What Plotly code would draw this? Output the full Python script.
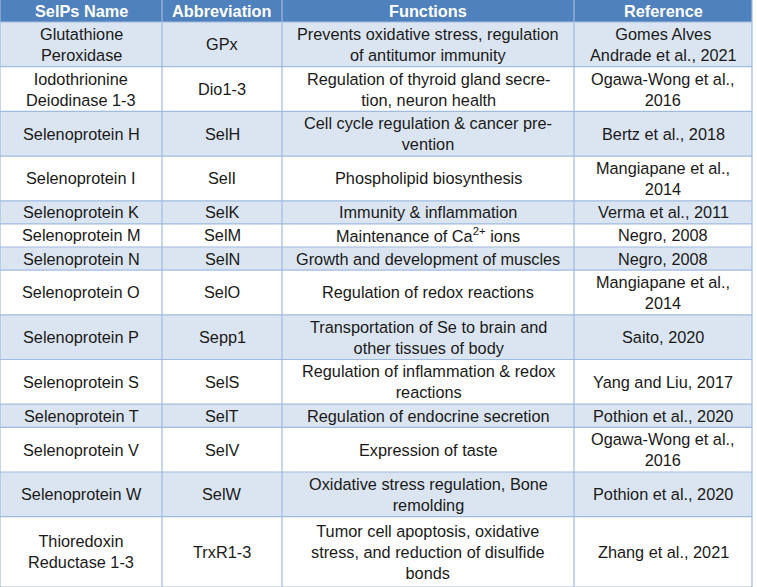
import plotly.graph_objects as go

headers = ["SelPs Name", "Abbreviation", "Functions", "Reference"]
col_widths = [162, 120, 292, 178]

names = [
    "Glutathione<br>Peroxidase", "Iodothrionine<br>Deiodinase 1-3", "Selenoprotein H",
    "Selenoprotein I", "Selenoprotein K", "Selenoprotein M", "Selenoprotein N",
    "Selenoprotein O", "Selenoprotein P", "Selenoprotein S", "Selenoprotein T",
    "Selenoprotein V", "Selenoprotein W", "Thioredoxin<br>Reductase 1-3",
]
abbrevs = ["GPx", "Dio1-3", "SelH", "SelI", "SelK", "SelM", "SelN", "SelO",
           "Sepp1", "SelS", "SelT", "SelV", "SelW", "TrxR1-3"]
functions = [
    "Prevents oxidative stress, regulation<br>of antitumor immunity",
    "Regulation of thyroid gland secre-<br>tion, neuron health",
    "Cell cycle regulation & cancer pre-<br>vention",
    "Phospholipid biosynthesis",
    "Immunity & inflammation",
    "Maintenance of Ca<sup>2+</sup> ions",
    "Growth and development of muscles",
    "Regulation of redox reactions",
    "Transportation of Se to brain and<br>other tissues of body",
    "Regulation of inflammation & redox<br>reactions",
    "Regulation of endocrine secretion",
    "Expression of taste",
    "Oxidative stress regulation, Bone<br>remolding",
    "Tumor cell apoptosis, oxidative<br>stress, and reduction of disulfide<br>bonds",
]
references = [
    "Gomes Alves<br>Andrade et al., 2021", "Ogawa-Wong et al.,<br>2016", "Bertz et al., 2018",
    "Mangiapane et al.,<br>2014", "Verma et al., 2011", "Negro, 2008", "Negro, 2008",
    "Mangiapane et al.,<br>2014", "Saito, 2020", "Yang and Liu, 2017",
    "Pothion et al., 2020", "Ogawa-Wong et al.,<br>2016", "Pothion et al., 2020",
    "Zhang et al., 2021",
]

HEADER_BG = "#4f81bd"
BAND = "#dbe5f1"
BORDER = "#9fbbe0"
FONT = "Liberation Sans, Arial, sans-serif"
FS = 16.3
HEADER_H = 22
LINE_H = 21.6
PAD = 1.5

columns = [names, abbrevs, functions, references]
n_rows = len(names)

# column edges
x_edges = [0]
for w in col_widths:
    x_edges.append(x_edges[-1] + w)

# row heights from number of text lines in the row
row_heights = []
for i in range(n_rows):
    lines = max(col[i].count("<br>") + 1 for col in columns)
    row_heights.append(LINE_H * lines + PAD + (4 if lines >= 3 else 0))
y_edges = [0, HEADER_H]
for h in row_heights:
    y_edges.append(y_edges[-1] + h)

shapes = []
annotations = []

# header
shapes.append(dict(type="rect", xref="x", yref="y", x0=x_edges[0], x1=x_edges[-1],
                   y0=0, y1=HEADER_H, fillcolor=HEADER_BG, line=dict(width=0), layer="below"))
for j, h in enumerate(headers):
    annotations.append(dict(x=(x_edges[j] + x_edges[j + 1]) / 2, y=HEADER_H / 2,
                            xref="x", yref="y", text=f"<b>{h}</b>", showarrow=False,
                            font=dict(family=FONT, size=FS, color="white"),
                            xanchor="center", yanchor="middle", align="center"))

# body
for i in range(n_rows):
    y0, y1 = y_edges[i + 1], y_edges[i + 2]
    if i % 2 == 0:
        shapes.append(dict(type="rect", xref="x", yref="y", x0=x_edges[0], x1=x_edges[-1],
                           y0=y0, y1=y1, fillcolor=BAND, line=dict(width=0), layer="below"))
    for j, col in enumerate(columns):
        annotations.append(dict(x=(x_edges[j] + x_edges[j + 1]) / 2, y=(y0 + y1) / 2,
                                xref="x", yref="y", text=col[i], showarrow=False,
                                font=dict(family=FONT, size=FS, color="#1a1a1a"),
                                xanchor="center", yanchor="middle", align="center"))

# grid lines
for y in y_edges[1:]:
    shapes.append(dict(type="line", xref="x", yref="y", x0=x_edges[0], x1=x_edges[-1],
                       y0=y, y1=y, line=dict(color=BORDER, width=1.2)))
for x in x_edges:
    shapes.append(dict(type="line", xref="x", yref="y", x0=x, x1=x,
                       y0=0, y1=y_edges[-1], line=dict(color=BORDER, width=1.2)))

fig = go.Figure()
fig.update_layout(
    width=757, height=587,
    margin=dict(l=0, r=0, t=0, b=0),
    paper_bgcolor="white", plot_bgcolor="white",
    xaxis=dict(range=[0, 757], visible=False, fixedrange=True),
    yaxis=dict(range=[587, 0], visible=False, fixedrange=True),
    shapes=shapes, annotations=annotations, showlegend=False,
)
fig.write_html("out.html", config={"displayModeBar": False},
               post_script="document.body.style.margin='0px';")
